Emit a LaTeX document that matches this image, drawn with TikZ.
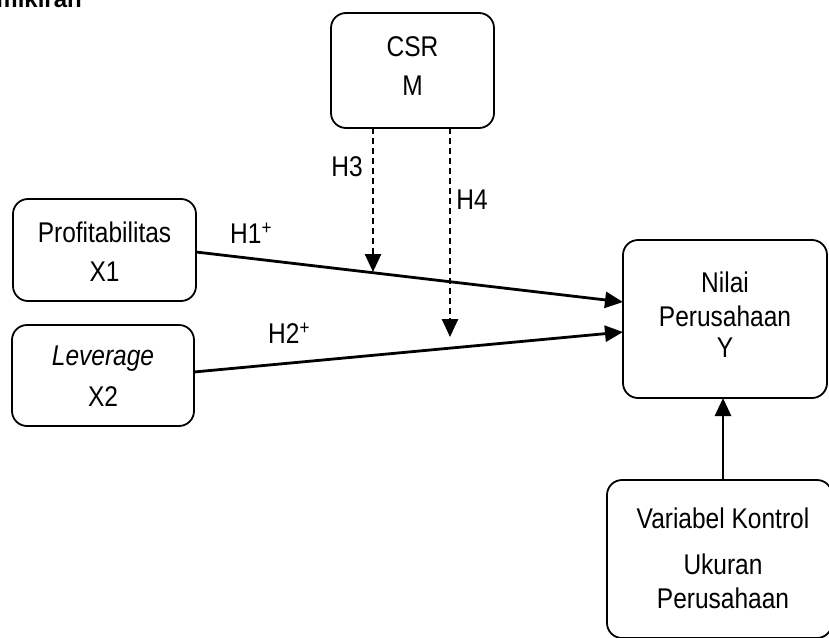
\documentclass[tikz,border=0pt]{standalone}
\usepackage{fontspec}
\setmainfont{Liberation Sans}[FakeStretch=0.86]
\newfontfamily\headfont{Liberation Sans}
\usetikzlibrary{arrows.meta}
\begin{document}
\begin{tikzpicture}[x=1pt,y=-1pt,
  boxstyle/.style={draw,line width=1.8pt,rounded corners=15pt,inner sep=0pt},
  lbl/.style={inner sep=0pt,font=\fontsize{28.5}{32}\selectfont},
  conn/.style={line width=2.8pt,-{Triangle[length=18pt,width=16pt]}},
  dconn/.style={line width=2.6pt,dash pattern=on 6pt off 4pt,-{Triangle[length=18pt,width=16pt]}}]
\useasboundingbox (0,0) rectangle (829,637);
\clip (0,0) rectangle (829,637);
% heading (clipped at the top edge, as in the reference)
\node[anchor=base east,inner sep=0pt,font=\headfont\fontsize{24}{28}\bfseries\selectfont] (head) at (82,8) {Pemikiran};
% boxes
\node[boxstyle,minimum width=163pt,minimum height=115pt] (csr) at (412.5,70.5) {};
\node[boxstyle,minimum width=183pt,minimum height=102pt] (prof) at (104.5,250) {};
\node[boxstyle,minimum width=182pt,minimum height=101pt] (lev) at (103,375.5) {};
\node[boxstyle,minimum width=204pt,minimum height=158pt] (nilai) at (725,319) {};
\node[boxstyle,minimum width=225pt,minimum height=158pt] (var) at (719.5,559) {};
% texts
\node[lbl] (t1) at (412.5,47) {CSR};
\node[lbl] (t2) at (412.5,86) {M};
\node[lbl] (t3) at (104.5,232) {Profitabilitas};
\node[lbl] (t4) at (104.5,272) {X1};
\node[lbl] (t5) at (103,359) {\itshape Leverage};
\node[lbl] (t6) at (103,397) {X2};
\node[lbl] (t7) at (725,282) {Nilai};
\node[lbl] (t8) at (725,316) {Perusahaan};
\node[lbl] (t9) at (725,348) {Y};
\node[lbl] (t10) at (723,518) {Variabel Kontrol};
\node[lbl] (t11) at (723,564) {Ukuran};
\node[lbl] (t12) at (723,598) {Perusahaan};
% labels
\node[lbl,anchor=west] (h1) at (230,233) {H1\textsuperscript{+}};
\node[lbl,anchor=west] (h2) at (268,333) {H2\textsuperscript{+}};
\node[lbl] (h3) at (347,167) {H3};
\node[lbl] (h4) at (472,200) {H4};
% connector endpoints
\coordinate (p1) at (196,252);
\coordinate (n1) at (623,302);
\coordinate (p2) at (194,372);
\coordinate (n2) at (623,332);
\coordinate (c3) at (373,128);
\coordinate (e3) at (373,272);
\coordinate (c4) at (450,128);
\coordinate (e4) at (450,337);
\coordinate (v1) at (723,480);
\coordinate (nv) at (723,398);
\draw[conn] (p1) -- (n1);
\draw[conn] (p2) -- (n2);
\draw[dconn] (c3) -- (e3);
\draw[dconn] (c4) -- (e4);
\draw[conn] (v1) -- (nv);
\end{tikzpicture}
\end{document}
